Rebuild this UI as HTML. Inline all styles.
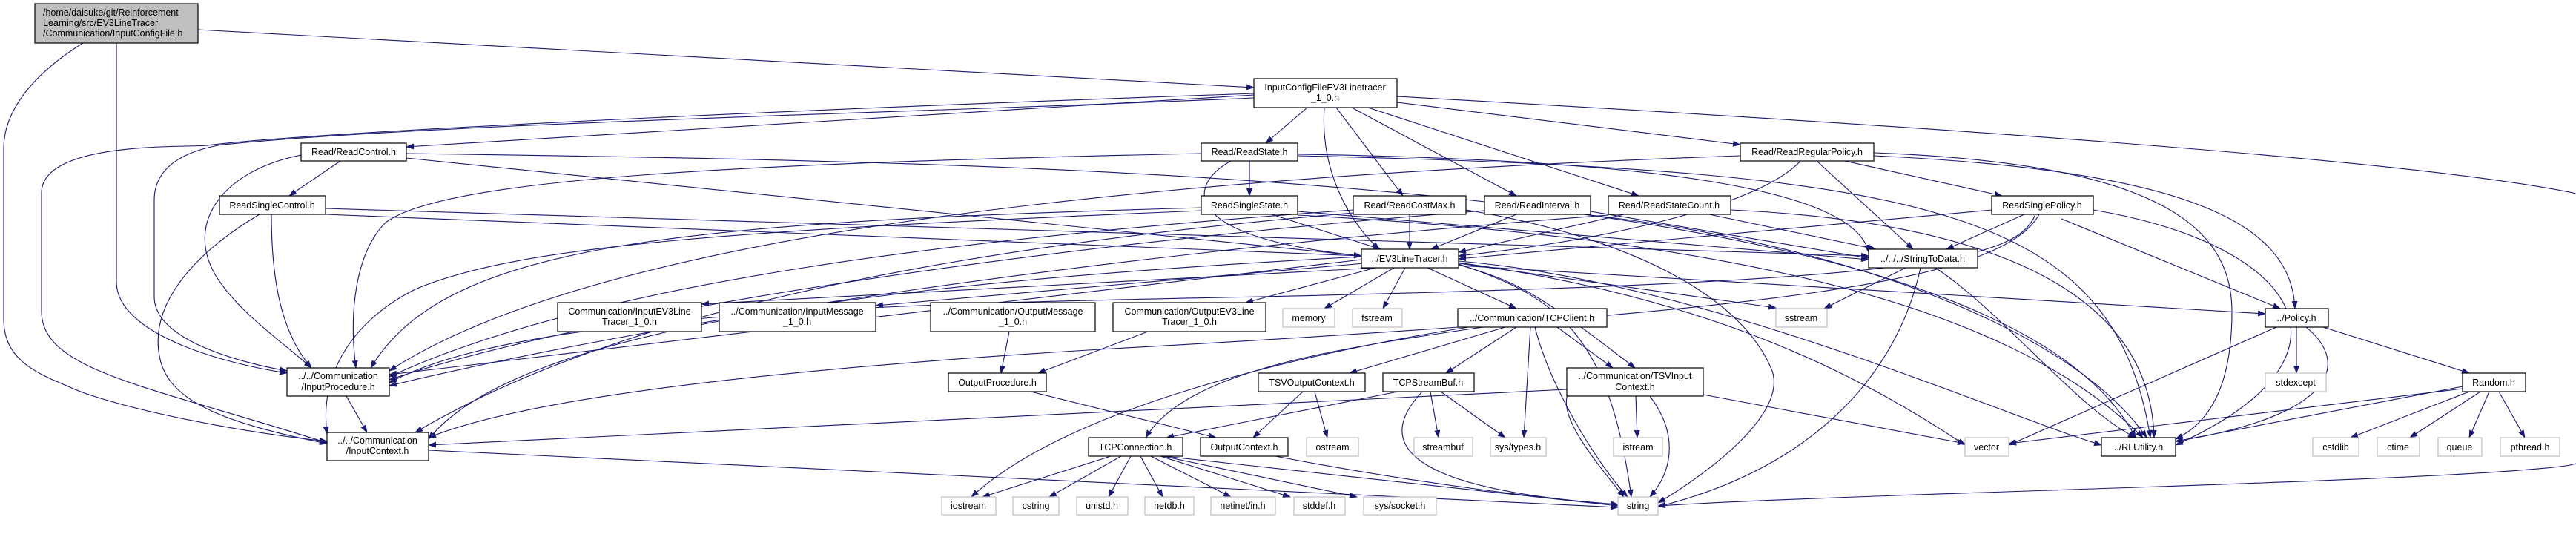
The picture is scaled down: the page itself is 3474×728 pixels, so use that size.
<!DOCTYPE html>
<html><head><meta charset="utf-8"><style>
html,body{margin:0;padding:0;background:#fff}
svg{display:block}
text{font-family:"Liberation Sans",sans-serif;font-size:12.5px;fill:#000;text-anchor:middle}
.n{fill:#fff;stroke:#000;stroke-width:1.2}
.g{fill:#fff;stroke:#bfbfbf;stroke-width:1.2}
.e path{fill:none;stroke:#191970;stroke-width:1.1;marker-end:url(#a)}
</style></head><body>
<svg width="3474" height="728" viewBox="0 0 3474 728" xmlns="http://www.w3.org/2000/svg">
<defs><marker id="a" markerWidth="11" markerHeight="8" refX="10" refY="4" orient="auto" markerUnits="userSpaceOnUse"><path d="M0,0 L11,4 L0,8 z" fill="#191970"/></marker></defs>
<g class="e">
<path d="M267,40 L1691,118"/>
<path d="M157,58 L157,380 C157,450 300,490 387,503"/>
<path d="M112,58 C60,90 5,140 5,200 L5,430 C5,480 40,500 90,520 C140,545 300,580 441,595"/>
<path d="M1691,128 L548,198"/>
<path d="M1691,132 C1300,150 600,165 300,195 C240,205 208,230 208,270 L208,400 C208,460 330,490 387,500"/>
<path d="M1691,126 C1000,150 400,180 280,196 C250,199 56,190 56,260 L56,420 C56,500 200,520 441,597"/>
<path d="M1763,145 L1707,193"/>
<path d="M1786,145 C1780,230 1820,300 1860,336"/>
<path d="M1802,145 L1892,264"/>
<path d="M1823,145 L2045,264"/>
<path d="M1845,145 L2210,264"/>
<path d="M1884,138 L2347,195"/>
<path d="M1884,130 C2600,170 3250,215 3470,260 C3490,268 3490,275 3490,285 L3490,605 C3490,620 3480,625 3460,628 C3300,650 2500,665 2236,682"/>
<path d="M459,217 L390,264"/>
<path d="M406,209 C300,230 250,300 290,370 C320,420 380,460 420,496"/>
<path d="M548,213 L1836,345"/>
<path d="M548,207 C1500,220 2700,240 2880,590"/>
<path d="M366,289 C366,380 380,450 420,496"/>
<path d="M350,289 C280,330 200,400 215,480 C225,540 300,570 441,598"/>
<path d="M439,289 L1836,345"/>
<path d="M439,281 L2520,345"/>
<path d="M1685,217 L1685,264"/>
<path d="M1660,217 C1600,250 1590,320 1836,345"/>
<path d="M1620,207 C1000,220 600,240 520,300 C480,340 470,420 480,496"/>
<path d="M1750,208 C2200,215 2500,250 2520,340"/>
<path d="M1750,210 C2600,230 2850,280 2900,590"/>
<path d="M1715,289 L1862,336"/>
<path d="M1620,280 C900,300 600,330 500,496"/>
<path d="M1620,284 C1000,310 700,330 560,390 C480,430 430,500 441,585"/>
<path d="M1750,285 L2520,350"/>
<path d="M1750,290 C2300,320 2700,400 2890,590"/>
<path d="M1901,289 L1901,336"/>
<path d="M1825,283 C1300,320 800,380 525,508"/>
<path d="M1825,287 C1200,340 800,440 560,583"/>
<path d="M1977,283 C2200,320 2350,400 2390,500 C2410,560 2300,640 2236,678"/>
<path d="M2045,289 L1930,336"/>
<path d="M2002,284 C1400,330 800,420 525,512"/>
<path d="M2145,285 L2520,348"/>
<path d="M2145,290 C2500,330 2800,450 2895,590"/>
<path d="M2190,289 L1967,340"/>
<path d="M2305,289 L2530,336"/>
<path d="M2334,283 C2700,300 2900,400 2905,590"/>
<path d="M2169,290 C1500,340 900,430 525,520"/>
<path d="M2488,217 L2700,264"/>
<path d="M2450,217 L2580,336"/>
<path d="M2428,217 C2380,270 2200,320 1967,345"/>
<path d="M2527,210 C2950,230 3090,300 3095,416"/>
<path d="M2527,206 C2900,220 3010,300 3010,420 C3010,520 2980,570 2934,592"/>
<path d="M2347,210 C1500,240 800,320 525,500"/>
<path d="M2730,289 L2625,336"/>
<path d="M2780,295 L3075,416"/>
<path d="M2823,283 C3100,330 3200,480 2934,600"/>
<path d="M2686,283 L1967,349"/>
<path d="M2750,289 C2700,380 2400,420 1500,470 C1000,500 700,540 578,590"/>
<path d="M2745,289 C2720,350 2600,380 1700,400 C1200,410 700,420 525,516"/>
<path d="M1857,361 L946,410"/>
<path d="M1840,355 L1181,412"/>
<path d="M1855,361 L1680,408"/>
<path d="M1880,361 L1786,416"/>
<path d="M1895,361 L1865,416"/>
<path d="M1925,361 L2045,416"/>
<path d="M1967,358 L3055,423"/>
<path d="M1967,355 L2395,415"/>
<path d="M1967,354 C2300,400 2500,500 2650,600"/>
<path d="M1967,352 C2300,380 2700,560 2834,600"/>
<path d="M1967,356 C2100,400 2170,450 2200,670"/>
<path d="M1967,357 C2050,380 2080,400 2205,496"/>
<path d="M1836,350 L525,505"/>
<path d="M1836,346 C1200,380 700,440 578,592"/>
<path d="M2570,361 L2460,416"/>
<path d="M2590,361 C2560,500 2450,630 2236,683"/>
<path d="M2610,361 C2700,420 2800,550 2880,590"/>
<path d="M2000,441 C1800,470 1600,500 1545,590"/>
<path d="M2030,441 L1820,503"/>
<path d="M2045,441 L1950,503"/>
<path d="M2064,441 L2055,590"/>
<path d="M2100,441 L2175,496"/>
<path d="M2070,441 C2090,520 2150,620 2195,670"/>
<path d="M1980,441 C1800,470 1450,540 1310,670"/>
<path d="M2206,534 L2208,590"/>
<path d="M2225,534 C2260,580 2260,630 2225,670"/>
<path d="M2297,532 L2650,598"/>
<path d="M2113,525 L578,600"/>
<path d="M2115,530 C2100,560 2150,620 2190,670"/>
<path d="M1548,447 L1400,503"/>
<path d="M1361,447 L1350,503"/>
<path d="M1390,528 L1640,590"/>
<path d="M1757,528 L1690,590"/>
<path d="M1773,528 L1790,590"/>
<path d="M1885,528 L1573,590"/>
<path d="M1929,528 L1940,590"/>
<path d="M1943,528 L2030,590"/>
<path d="M1918,528 C1850,600 1900,660 2182,680"/>
<path d="M1498,615 L1325,670"/>
<path d="M1512,615 L1415,670"/>
<path d="M1525,615 L1495,670"/>
<path d="M1538,615 L1568,670"/>
<path d="M1552,615 L1660,670"/>
<path d="M1565,615 L1740,670"/>
<path d="M1568,615 L1830,670"/>
<path d="M1570,615 L2182,682"/>
<path d="M1720,615 C1900,650 2100,675 2182,680"/>
<path d="M467,534 L495,583"/>
<path d="M578,607 L2182,684"/>
<path d="M3097,441 L3097,503"/>
<path d="M3133,441 L3330,503"/>
<path d="M3110,441 C3170,490 3150,560 2934,595"/>
<path d="M3070,441 L2709,600"/>
<path d="M3330,528 L3170,590"/>
<path d="M3345,528 L3250,590"/>
<path d="M3357,528 L3330,590"/>
<path d="M3370,528 L3405,590"/>
<path d="M3321,521 L2934,595"/>
<path d="M3321,524 L2709,598"/>
</g>
<g>
<rect x="47" y="5" width="220" height="53" fill="#bfbfbf" stroke="#000" stroke-width="1.2"/>
<text x="157" y="21" style="text-anchor:start" transform="translate(-99,0)">/home/daisuke/git/Reinforcement</text>
<text x="58" y="35" style="text-anchor:start">Learning/src/EV3LineTracer</text>
<text x="58" y="49" style="text-anchor:start">/Communication/InputConfigFile.h</text>

<rect class="n" x="1691" y="106" width="193" height="39"/><text x="1787" y="122">InputConfigFileEV3Linetracer</text><text x="1787" y="136">_1_0.h</text>
<rect class="n" x="406" y="193" width="142" height="24"/><text x="477" y="209">Read/ReadControl.h</text>
<rect class="n" x="296" y="264" width="143" height="25"/><text x="367" y="281">ReadSingleControl.h</text>
<rect class="n" x="387" y="496" width="138" height="38"/><text x="456" y="511">../../Communication</text><text x="456" y="526">/InputProcedure.h</text>
<rect class="n" x="441" y="583" width="137" height="38"/><text x="509" y="598">../../Communication</text><text x="509" y="612">/InputContext.h</text>
<rect class="n" x="752" y="408" width="194" height="39"/><text x="849" y="424">Communication/InputEV3Line</text><text x="849" y="438">Tracer_1_0.h</text>
<rect class="n" x="970" y="408" width="211" height="39"/><text x="1075" y="424">../Communication/InputMessage</text><text x="1075" y="438">_1_0.h</text>
<rect class="n" x="1255" y="408" width="222" height="39"/><text x="1366" y="424">../Communication/OutputMessage</text><text x="1366" y="438">_1_0.h</text>
<rect class="n" x="1279" y="503" width="132" height="25"/><text x="1345" y="520">OutputProcedure.h</text>
<rect class="n" x="1620" y="193" width="130" height="24"/><text x="1685" y="209">Read/ReadState.h</text>
<rect class="n" x="1620" y="264" width="130" height="25"/><text x="1685" y="281">ReadSingleState.h</text>
<rect class="n" x="1825" y="264" width="152" height="25"/><text x="1901" y="281">Read/ReadCostMax.h</text>
<rect class="n" x="2002" y="264" width="143" height="25"/><text x="2073" y="281">Read/ReadInterval.h</text>
<rect class="n" x="2169" y="264" width="165" height="25"/><text x="2251" y="281">Read/ReadStateCount.h</text>
<rect class="n" x="2347" y="193" width="180" height="24"/><text x="2437" y="209">Read/ReadRegularPolicy.h</text>
<rect class="n" x="2686" y="264" width="137" height="25"/><text x="2754" y="281">ReadSinglePolicy.h</text>
<rect class="n" x="1836" y="336" width="131" height="25"/><text x="1901" y="353">../EV3LineTracer.h</text>
<rect class="n" x="2520" y="336" width="147" height="25"/><text x="2593" y="353">../../../StringToData.h</text>
<rect class="n" x="1501" y="408" width="206" height="39"/><text x="1604" y="424">Communication/OutputEV3Line</text><text x="1604" y="438">Tracer_1_0.h</text>
<rect class="n" x="1966" y="416" width="201" height="25"/><text x="2066" y="433">../Communication/TCPClient.h</text>
<rect class="n" x="3055" y="416" width="85" height="25"/><text x="3097" y="433">../Policy.h</text>
<rect class="n" x="1697" y="503" width="144" height="25"/><text x="1769" y="520">TSVOutputContext.h</text>
<rect class="n" x="1865" y="503" width="123" height="25"/><text x="1926" y="520">TCPStreamBuf.h</text>
<rect class="n" x="2113" y="496" width="184" height="38"/><text x="2205" y="511">../Communication/TSVInput</text><text x="2205" y="526">Context.h</text>
<rect class="n" x="3321" y="503" width="85" height="25"/><text x="3363" y="520">Random.h</text>
<rect class="n" x="1468" y="590" width="127" height="25"/><text x="1531" y="607">TCPConnection.h</text>
<rect class="n" x="1619" y="590" width="118" height="25"/><text x="1678" y="607">OutputContext.h</text>
<rect class="n" x="2834" y="590" width="100" height="25"/><text x="2884" y="607">../RLUtility.h</text>

<rect class="g" x="1730" y="416" width="70" height="25"/><text x="1765" y="433">memory</text>
<rect class="g" x="1824" y="416" width="67" height="25"/><text x="1857" y="433">fstream</text>
<rect class="g" x="2395" y="416" width="69" height="25"/><text x="2429" y="433">sstream</text>
<rect class="g" x="3055" y="503" width="82" height="25"/><text x="3096" y="520">stdexcept</text>
<rect class="g" x="1762" y="590" width="70" height="25"/><text x="1797" y="607">ostream</text>
<rect class="g" x="1907" y="590" width="79" height="25"/><text x="1946" y="607">streambuf</text>
<rect class="g" x="2010" y="590" width="75" height="25"/><text x="2047" y="607">sys/types.h</text>
<rect class="g" x="2176" y="590" width="66" height="25"/><text x="2209" y="607">istream</text>
<rect class="g" x="2650" y="590" width="59" height="25"/><text x="2679" y="607">vector</text>
<rect class="g" x="3119" y="590" width="62" height="25"/><text x="3150" y="607">cstdlib</text>
<rect class="g" x="3206" y="590" width="57" height="25"/><text x="3234" y="607">ctime</text>
<rect class="g" x="3288" y="590" width="59" height="25"/><text x="3317" y="607">queue</text>
<rect class="g" x="3372" y="590" width="80" height="25"/><text x="3412" y="607">pthread.h</text>
<rect class="g" x="1270" y="670" width="73" height="24"/><text x="1306" y="686">iostream</text>
<rect class="g" x="1366" y="670" width="62" height="24"/><text x="1397" y="686">cstring</text>
<rect class="g" x="1452" y="670" width="69" height="24"/><text x="1486" y="686">unistd.h</text>
<rect class="g" x="1544" y="670" width="66" height="24"/><text x="1577" y="686">netdb.h</text>
<rect class="g" x="1633" y="670" width="87" height="24"/><text x="1676" y="686">netinet/in.h</text>
<rect class="g" x="1745" y="670" width="69" height="24"/><text x="1779" y="686">stddef.h</text>
<rect class="g" x="1839" y="670" width="98" height="24"/><text x="1888" y="686">sys/socket.h</text>
<rect class="g" x="2182" y="670" width="54" height="24"/><text x="2209" y="686">string</text>
</g>
</svg>
</body></html>
